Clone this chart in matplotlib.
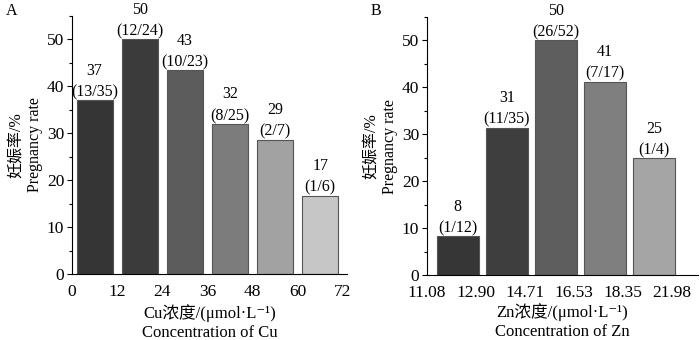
import matplotlib.pyplot as plt
from matplotlib.ticker import MultipleLocator

plt.rcParams['font.family'] = ['Liberation Serif', 'Noto Sans CJK SC', 'DejaVu Serif']
plt.rcParams['font.size'] = 11.5

# panel A: Cu
cu_edges = [0, 12, 24, 36, 48, 60, 72]
cu_rate = [37.1, 50, 43.5, 32, 28.6, 16.7]
cu_labels = ["37\n(13/35)", "50\n(12/24)", "43\n(10/23)", "32\n(8/25)", "29\n(2/7)", "17\n(1/6)"]
cu_colors = ["#353535", "#3b3b3b", "#5c5c5c", "#7c7c7c", "#a2a2a2", "#c6c6c6"]

# panel B: Zn
zn_ticks = ["11.08", "12.90", "14.71", "16.53", "18.35", "21.98"]
zn_rate = [8.3, 31.4, 50, 41.2, 25]
zn_labels = ["8\n(1/12)", "31\n(11/35)", "50\n(26/52)", "41\n(7/17)", "25\n(1/4)"]
zn_colors = ["#363636", "#3e3e3e", "#5e5e5e", "#7f7f7f", "#a5a5a5"]

ylabel = "妊娠率/%\nPregnancy rate"


def style_axis(ax):
    ax.spines['top'].set_visible(False)
    ax.spines['right'].set_visible(False)
    ax.set_ylim(0, 55)
    ax.yaxis.set_major_locator(MultipleLocator(10))
    ax.yaxis.set_minor_locator(MultipleLocator(5))
    ax.tick_params(axis='y', which='major', direction='out', length=3.6, width=0.8,
                   pad=2, labelsize=12.5)
    ax.tick_params(axis='y', which='minor', direction='out', length=2.2, width=0.8)
    ax.tick_params(axis='x', length=0, pad=7, labelsize=12.5)
    ax.set_ylabel(ylabel, labelpad=3, linespacing=1.15, fontsize=11.5)


def annotate(ax, bars, labels):
    for b, lab in zip(bars, labels):
        ax.text(b.get_x() + b.get_width() / 2, b.get_height(), lab,
                ha='center', va='bottom', linespacing=1.45, fontsize=11.5)


fig = plt.figure(figsize=(7, 3.4), dpi=100)

ax1 = fig.add_axes([0.103, 0.194, 0.393, 0.759])
centers = [(cu_edges[i] + cu_edges[i + 1]) / 2 for i in range(len(cu_rate))]
bars = ax1.bar(centers, cu_rate, width=9.6, color=cu_colors, edgecolor="#555555", linewidth=0.8)
annotate(ax1, bars, cu_labels)
ax1.set_xlim(0, 73.2)
ax1.set_xticks(cu_edges)
style_axis(ax1)
ax1.set_xlabel("Cu浓度/(μmol·L⁻¹)\nConcentration of Cu", labelpad=3, linespacing=1.25,
               fontsize=12)
fig.text(0.008, 0.955, "A", fontsize=11.5)

ax2 = fig.add_axes([0.61, 0.19, 0.387, 0.76])
pos = list(range(len(zn_rate)))
bars = ax2.bar(pos, zn_rate, width=0.85, color=zn_colors, edgecolor="#555555", linewidth=0.8)
annotate(ax2, bars, zn_labels)
ax2.set_xlim(-0.62, 4.9)
ax2.set_xticks([i - 0.63 for i in range(len(zn_ticks))])
ax2.set_xticklabels(zn_ticks)
style_axis(ax2)
ax2.set_xlabel("Zn浓度/(μmol·L⁻¹)\nConcentration of Zn", labelpad=1.5, linespacing=1.25,
               fontsize=12)
fig.text(0.53, 0.955, "B", fontsize=11.5)

fig.savefig("out.png", dpi=100)
